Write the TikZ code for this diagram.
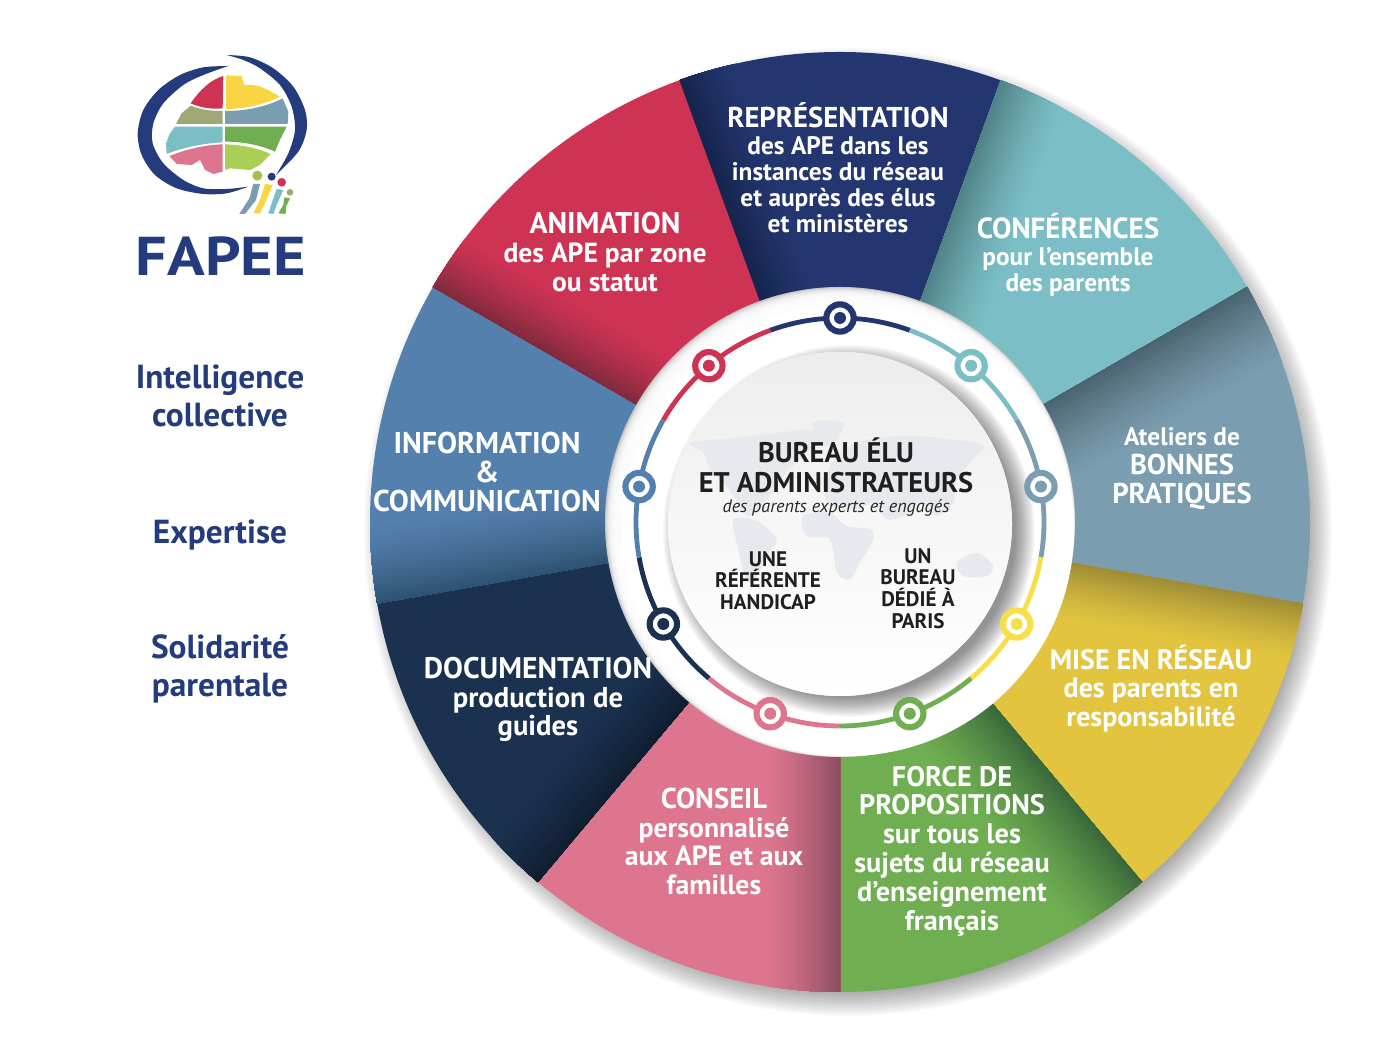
\documentclass[tikz,border=0pt]{standalone}
\usepackage{fontspec}
\setmainfont{PT Sans}
\newfontfamily\fapeefont[FakeStretch=1.14]{PT Sans}
\definecolor{cred}{HTML}{CE3354}\definecolor{dred}{HTML}{7E2A3C}
\definecolor{cnavy}{HTML}{23366F}\definecolor{dnavy}{HTML}{15244C}
\definecolor{cteal}{HTML}{7BBEC5}\definecolor{dteal}{HTML}{4F8186}
\definecolor{cslate}{HTML}{7A9DAF}\definecolor{dslate}{HTML}{4A6270}
\definecolor{cyel}{HTML}{E2C43F}\definecolor{dyel}{HTML}{9C8A36}
\definecolor{cgreen}{HTML}{6FAE51}\definecolor{dgreen}{HTML}{38663A}
\definecolor{cpink}{HTML}{DC758D}\definecolor{dpink}{HTML}{8A4C60}
\definecolor{cdark}{HTML}{1A314F}\definecolor{ddark}{HTML}{0F1D30}
\definecolor{cblue}{HTML}{5480AE}\definecolor{dblue}{HTML}{2E5172}
\definecolor{ryel}{HTML}{F8DF4A}
\definecolor{logonavy}{HTML}{243C7D}
\definecolor{logoolive}{HTML}{9EA874}
\definecolor{logolime}{HTML}{A9CF54}
\definecolor{logohead}{HTML}{A3C04F}
\definecolor{mapgray}{HTML}{E6E9ED}
\newcommand{\szline}[2]{{\fontsize{#1}{#1}\selectfont #2}}
\tikzset{
  x=.75pt,y=.75pt,
  wtext/.style={text=white,align=center,inner sep=0pt,font=\fontsize{#1}{21.6}\selectfont\bfseries},
  wtext/.default=21.5,
  ctext/.style={text=black!88,align=center,inner sep=0pt,font=\fontsize{21.3}{22.5}\selectfont\bfseries},
  stext/.style={text=black!88,align=center,inner sep=0pt,font=\fontsize{15.8}{16.2}\selectfont\bfseries},
  ltext/.style={text=logonavy,align=center,inner sep=0pt,font=\fontsize{25}{28.5}\selectfont\bfseries},
  ringdot/.style={circle,draw=#1,line width=4.6pt,fill=white,minimum size=20.5pt,inner sep=0pt},
  ringcore/.style={circle,fill=#1,minimum size=9pt,inner sep=0pt},
  ringseg/.style={line width=3.6pt,draw=#1},
  mapblob/.style={fill=mapgray,draw=none},
}
\newcommand{\fpwedge}[4]{%
  \begin{scope}
    \clip (0,0) -- (#1:470) arc[start angle=#1,end angle=#1+40,radius=470] -- cycle;
    \fill[#2] (0,0) circle[radius=480];
    \begin{scope}[rotate=#1+40]
      \foreach \t in {0,...,35}{
        \pgfmathsetmacro{\pp}{100*pow(\t/35,1.4)}
        \pgfmathsetmacro{\dd}{#4*(1-\t/35)}
        \fill[#3!\pp!#2] (-5,-\dd) rectangle (490,2);
      }
    \end{scope}
  \end{scope}}
\newcommand{\fpring}[2]{%
  \draw[ringseg=#2] (#1:204) arc[start angle=#1,end angle=#1+40,radius=204];}
\begin{document}
\begin{tikzpicture}
\useasboundingbox (0,0) rectangle (1398,1048);
\fill[white] (0,0) rectangle (1398,1048);
% ---------- wheel ----------
\begin{scope}[shift={(840,526)}]
  \foreach \i in {0,...,19}
    \fill[black,opacity=.028] (8,-10) circle[radius=484-\i*2];
  \fpwedge{70}{cnavy}{dnavy}{60}
  \fpwedge{30}{cteal}{dteal}{70}
  \fpwedge{-10}{cslate}{dslate}{85}
  \fpwedge{-50}{cyel}{dyel}{60}
  \fpwedge{-90}{cgreen}{dgreen}{85}
  \fpwedge{-130}{cpink}{dpink}{75}
  \fpwedge{-170}{cdark}{ddark}{65}
  \fpwedge{150}{cblue}{dblue}{80}
  \fpwedge{110}{cred}{dred}{60}
  % white disc with bevel
  \fill[black!32] (0,0) circle[radius=235];
  \foreach \i in {0,...,13}
    \fill[white,opacity=.3] (\i*.45,-\i*.45) circle[radius=235-\i*.62];
  \fill[white] (8,-8) circle[radius=226];
  % inner disc shadow
  \foreach \i in {0,...,15}
    \fill[black,opacity=.03] (9,-9) circle[radius=186-\i*1.3];
  \fill[white] (0,-2) circle[radius=172];
  \shade[top color=black!7,bottom color=white] (0,-2) circle[radius=172];
  % map
  \begin{scope}[shift={(-170,116)},x=.25pt,y=-.25pt]
    \draw[mapblob] plot[smooth cycle] coordinates {(60,110)(200,95)(330,80)(420,70)(470,90)(420,130)(380,170)(340,210)(300,270)(240,330)(210,300)(170,240)(120,190)(100,140)};
    \draw[mapblob] plot[smooth cycle] coordinates {(430,50)(520,50)(500,100)(460,120)};
    \draw[mapblob] plot[smooth cycle] coordinates {(190,340)(260,345)(320,400)(290,450)(250,530)(225,510)(205,430)};
    \draw[mapblob] plot[smooth cycle] coordinates {(400,330)(480,320)(530,360)(600,370)(610,400)(570,470)(540,520)(500,500)(480,400)(410,390)};
    \draw[mapblob] plot[smooth cycle] coordinates {(470,290)(480,180)(560,110)(700,90)(850,100)(940,120)(900,170)(860,220)(850,290)(800,330)(750,290)(700,330)(650,340)(610,290)(560,310)};
    \draw[mapblob] plot[smooth cycle] coordinates {(860,470)(920,440)(970,480)(950,510)(880,510)};
  \end{scope}
  % ring
  \fpring{70}{cnavy}
  \fpring{30}{cteal}
  \fpring{-10}{cslate}
  \fpring{-50}{ryel}
  \fpring{-90}{cgreen}
  \fpring{-130}{cpink}
  \fpring{-170}{cdark}
  \fpring{150}{cblue}
  \fpring{110}{cred}
  \foreach \a/\c/\n in {90/cnavy/a,50/cteal/b,10/cslate/c,-30/ryel/d,-70/cgreen/e,-110/cpink/f,-150/cdark/g,170/cblue/h,130/cred/i}{
    \node[ringdot=\c] (dot\n) at (\a:204) {};
    \node[ringcore=\c] (core\n) at (\a:204) {};
  }
\end{scope}
% ---------- wheel labels ----------
\node[wtext,font=\fontsize{19}{19.7}\selectfont\bfseries] (representation) at (838,880) {\szline{21.5}{REPRÉSENTATION}\\des APE dans les\\instances du réseau\\et auprès des élus\\et ministères};
\node[wtext=20.7] (animation) at (605,796) {\szline{22.4}{ANIMATION}\\des APE par zone\\ou statut};
\node[wtext,font=\fontsize{19}{20}\selectfont\bfseries] (conferences) at (1068,793) {\szline{21.8}{CONFÉRENCES}\\pour l’ensemble\\des parents};
\node[wtext] (ateliers) at (1182,579.5) {\szline{19}{Ateliers de}\\BONNES\\PRATIQUES};
\node[wtext=21] (reseau) at (1151,359.5) {MISE EN RÉSEAU\\des parents en\\responsabilité};
\node[wtext=21.2] (force) at (952,197) {FORCE DE\\PROPOSITIONS\\sur tous les\\sujets du réseau\\d’enseignement\\français};
\node[wtext=20.8] (conseil) at (714,206.5) {\szline{21.5}{CONSEIL}\\personnalisé\\aux APE et aux\\familles};
\node[wtext] (documentation) at (538,348.5) {\szline{22.3}{DOCUMENTATION}\\production de\\guides};
\node[wtext=22.5] (information) at (487,576) {INFORMATION\\\&\\COMMUNICATION};
% ---------- centre labels ----------
\node[ctext] (bureau) at (836,582.5) {BUREAU ÉLU\\ET ADMINISTRATEURS};
\node[text=black!85,inner sep=0pt,font=\fontsize{13.6}{15}\selectfont\itshape] (parents) at (836,540) {des parents experts et engagés};
\node[stext] (handicap) at (768,467.5) {UNE\\RÉFÉRENTE\\HANDICAP};
\node[stext] (paris) at (918,459.5) {UN\\BUREAU\\DÉDIÉ À\\PARIS};
% ---------- left labels ----------
\node[ltext] (intelligence) at (220,652) {Intelligence\\collective};
\node[ltext] (expertise) at (220,513) {Expertise};
\node[ltext] (solidarite) at (220,379) {Solidarité\\parentale};
% ---------- logo ----------
\begin{scope}[shift={(120,1008)},x=.25pt,y=-.25pt]
  \fill[logonavy] plot[smooth] coordinates {(325,78)(250,82)(180,105)(115,150)(70,210)(53,280)(65,345)(105,405)(170,445)(250,462)(320,460)(385,440)} -- plot[smooth] coordinates {(385,440)(320,447)(250,445)(190,420)(130,370)(98,310)(100,250)(130,190)(190,135)(250,105)(325,78)} -- cycle;
  \fill[logonavy] plot[smooth] coordinates {(320,45)(390,52)(460,85)(520,140)(555,210)(560,270)(535,335)(468,405)} -- plot[smooth] coordinates {(468,405)(505,340)(525,270)(515,200)(480,135)(420,85)(370,60)(320,45)} -- cycle;
  \fill[cred] (310,108) .. controls (270,120) and (240,150) .. (212,190) .. controls (245,205) and (280,208) .. (308,205) -- cycle;
  \fill[ryel!90!orange] (318,106) -- (365,108) -- (372,135) -- (400,135) -- (420,140) -- (445,150) -- (480,170) .. controls (430,195) and (370,207) .. (318,207) -- cycle;
  \fill[logoolive] (212,197) .. controls (250,212) and (280,213) .. (308,213) -- (308,252) -- (168,252) -- (185,220) -- cycle;
  \fill[cslate] (315,213) .. controls (380,213) and (440,200) .. (488,175) -- (505,215) -- (503,252) -- (315,252) -- cycle;
  \fill[cteal] (165,260) -- (308,260) -- (308,307) .. controls (250,310) and (190,322) .. (140,342) -- (138,310) -- (150,280) -- cycle;
  \fill[cgreen] (315,260) -- (500,260) -- (480,300) -- (465,335) .. controls (420,315) and (370,305) .. (315,305) -- cycle;
  \fill[cpink] (148,348) .. controls (200,328) and (250,315) .. (308,313) -- (308,395) -- (280,402) -- (255,390) -- (240,360) -- (215,375) -- (170,372) -- cycle;
  \fill[logolime] (315,313) .. controls (370,315) and (415,325) .. (452,342) -- (420,375) -- (390,390) -- (330,385) -- (315,390) -- cycle;
  \fill[cslate] (400,432) -- (420,432) -- (408,480) -- (375,522) -- (358,522) -- (388,475) -- cycle;
  \fill[ryel!90!orange] (435,432) -- (458,435) -- (437,485) -- (420,520) -- (400,520) -- (420,480) -- cycle;
  \fill[cteal] (470,447) -- (490,450) -- (470,495) -- (460,522) -- (445,520) -- (455,490) -- cycle;
  \fill[cgreen] (493,472) -- (510,475) -- (498,500) -- (497,522) -- (475,520) -- (490,495) -- cycle;
  \fill[logohead] (412,407) circle[radius=15];
  \fill[logonavy] (455,410) circle[radius=12];
  \fill[cred] (485,427) circle[radius=13];
  \fill[logoolive] (510,457) circle[radius=10];
\end{scope}
\node[text=logonavy,inner sep=0pt,font=\fontsize{41}{44}\fapeefont\bfseries] (fapee) at (221,792) {FAPEE};
\end{tikzpicture}
\end{document}
